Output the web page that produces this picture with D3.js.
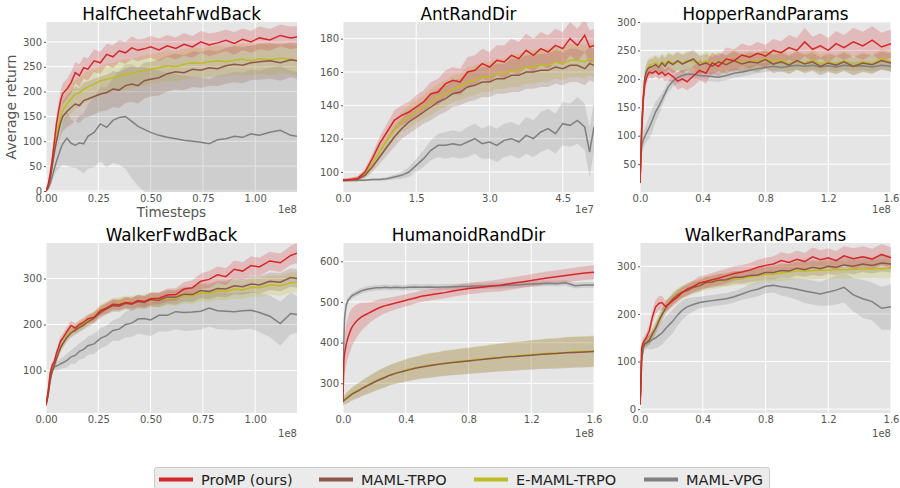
<!DOCTYPE html>
<html>
<head>
<meta charset="utf-8">
<script src="https://d3js.org/d3.v7.min.js"></script>
<style>
  body { margin: 0; background: #fff; }
  svg { font-family: "DejaVu Sans", sans-serif; }
</style>
</head>
<body>
<div id="chart"></div>
<script>
// series
var seriesNames = ["ProMP (ours)", "MAML-TRPO", "E-MAML-TRPO", "MAML-VPG"];
var seriesColors = ["#d62728", "#8c564b", "#bcbd22", "#7f7f7f"];

// timesteps (1e8 / 1e7 units)
var steps12 = [0, .01, .02, .03, .04, .05, .06, .07, .08, .10, .12, .14, .16, .18, .20, .23, .26, .29, .32, .35, .38, .41, .44, .47, .50, .54, .58, .62, .66, .70, .74, .78, .82, .86, .90, .94, .98, 1.02, 1.07, 1.12, 1.17, 1.20];
var steps16 = [0, .005, .01, .02, .03, .04, .05, .06, .08, .10, .12, .14, .16, .18, .21, .24, .27, .30, .34, .38, .42, .46, .50, .55, .60, .65, .70, .75, .80, .85, .90, .95, 1.00, 1.05, 1.10, 1.15, 1.20, 1.25, 1.30, 1.36, 1.42, 1.48, 1.54, 1.60];
var stepsAnt = [0, .15, .3, .45, .6, .75, .9, 1.05, 1.2, 1.35, 1.5, 1.65, 1.8, 1.95, 2.1, 2.25, 2.4, 2.55, 2.7, 2.85, 3.0, 3.15, 3.3, 3.45, 3.6, 3.75, 3.9, 4.05, 4.2, 4.35, 4.5, 4.65, 4.8, 4.95, 5.05, 5.14];

// HalfCheetahFwdBack
var hcProMP = [0, 12, 35, 65, 100, 135, 160, 182, 196, 205, 218, 238, 232, 248, 245, 262, 258, 275, 270, 282, 278, 288, 283, 286, 290, 284, 292, 287, 295, 290, 300, 294, 298, 303, 297, 305, 300, 308, 304, 313, 308, 310];
var hcProMPStd = [2, 3, 6, 10, 14, 18, 20, 20, 21, 20, 22, 21, 23, 22, 22, 23, 22, 21, 23, 22, 22, 23, 22, 21, 22, 23, 22, 22, 23, 22, 22, 23, 22, 22, 23, 22, 22, 23, 22, 22, 23, 22];
var hcTRPO = [0, 8, 25, 50, 78, 100, 120, 138, 150, 160, 168, 175, 172, 182, 185, 190, 195, 198, 205, 203, 212, 215, 212, 222, 225, 228, 236, 240, 238, 245, 243, 248, 246, 252, 255, 253, 258, 260, 262, 258, 264, 262];
var hcTRPOStd = [2, 3, 6, 10, 15, 20, 24, 28, 30, 32, 34, 35, 35, 36, 36, 36, 35, 36, 36, 36, 35, 36, 36, 36, 35, 36, 36, 36, 35, 36, 36, 36, 35, 36, 36, 36, 35, 36, 36, 36, 35, 36];
var hcETRPO = [0, 9, 28, 55, 85, 110, 132, 150, 162, 175, 185, 195, 198, 205, 210, 215, 222, 225, 228, 232, 235, 236, 240, 242, 245, 248, 252, 250, 255, 258, 257, 260, 262, 260, 263, 265, 262, 266, 264, 267, 265, 262];
var hcETRPOStd = [2, 3, 6, 10, 14, 18, 22, 25, 27, 28, 29, 30, 30, 30, 31, 30, 30, 31, 30, 30, 31, 30, 30, 31, 30, 30, 31, 30, 30, 31, 30, 30, 31, 30, 30, 31, 30, 30, 31, 30, 30, 30];
var hcVPG = [0, 5, 15, 30, 45, 60, 72, 85, 95, 106, 96, 92, 97, 95, 110, 118, 135, 128, 142, 148, 150, 140, 130, 124, 118, 112, 108, 105, 102, 100, 98, 95, 103, 105, 110, 108, 115, 112, 118, 122, 112, 110];
var hcVPGStd = [2, 3, 6, 10, 14, 20, 28, 35, 42, 55, 48, 45, 55, 60, 65, 70, 75, 80, 85, 95, 105, 115, 120, 125, 128, 130, 130, 130, 130, 130, 130, 130, 130, 130, 130, 130, 130, 130, 130, 130, 130, 130];

// AntRandDir
var antProMP = [95, 95.5, 96, 100, 108, 117, 124, 131, 134, 136, 139, 142, 147, 148, 153, 155, 154, 160, 161, 165, 163, 167, 166, 170, 168, 173, 170, 174, 172, 176, 174, 180, 176, 182, 175, 176];
var antProMPStd = [1, 1, 1.5, 2, 3, 4, 5, 6, 6, 6, 7, 7, 7, 8, 8, 8, 8, 9, 9, 9, 9, 9, 10, 10, 10, 10, 10, 10, 10, 10, 10, 10, 10, 10, 10, 10];
var antTRPO = [95, 95.2, 95.8, 98, 103, 109, 115, 121, 126, 130, 133, 136, 139, 142, 144, 147, 148, 151, 152, 154, 154, 156, 156, 158, 158, 160, 160, 161, 161, 163, 162, 164, 164, 162, 165, 164];
var antTRPOStd = [1, 1, 1.5, 2, 3, 4, 5, 6, 6, 7, 7, 7, 8, 8, 8, 8, 8, 9, 9, 9, 9, 9, 9, 10, 10, 10, 10, 10, 10, 10, 10, 10, 10, 10, 10, 10];
var antETRPO = [95, 95.3, 96, 99, 105, 112, 119, 125, 130, 133, 136, 139, 142, 145, 147, 150, 151, 154, 155, 157, 157, 159, 159, 161, 161, 163, 163, 164, 164, 166, 165, 167, 167, 166, 168, 167];
var antETRPOStd = [1, 1, 1.5, 2, 3, 4, 5, 6, 6, 7, 7, 7, 8, 8, 8, 8, 8, 9, 9, 9, 9, 9, 9, 10, 10, 10, 10, 10, 10, 10, 10, 10, 10, 10, 10, 10];
var antVPG = [95, 95, 95, 95, 95.5, 95.5, 96, 97, 98, 100, 104, 108, 113, 116, 116, 117, 116, 118, 120, 117, 118, 116, 119, 120, 118, 122, 120, 124, 126, 123, 129, 128, 131, 127, 112, 127];
var antVPGStd = [.5, .5, .5, .5, .7, .8, 1, 1.5, 2, 3, 4, 5, 6, 7, 8, 8, 8, 9, 9, 9, 10, 10, 10, 10, 10, 11, 11, 12, 12, 12, 13, 13, 14, 14, 15, 15];

// HopperRandParams
var hopProMP = [17, 55, 100, 160, 190, 200, 208, 212, 210, 214, 208, 212, 206, 210, 204, 196, 200, 195, 205, 215, 210, 228, 222, 235, 232, 242, 238, 245, 240, 250, 246, 255, 250, 265, 252, 258, 250, 262, 255, 265, 258, 268, 256, 262];
var hopProMPStd = [3, 10, 15, 18, 15, 12, 10, 10, 10, 10, 10, 10, 10, 12, 12, 15, 15, 15, 18, 18, 18, 18, 18, 20, 20, 20, 20, 20, 20, 20, 20, 22, 22, 25, 22, 22, 22, 22, 22, 25, 25, 25, 25, 25];
var hopTRPO = [17, 65, 110, 165, 200, 212, 218, 220, 222, 225, 220, 228, 222, 230, 225, 232, 226, 230, 235, 224, 228, 222, 230, 225, 232, 226, 230, 228, 234, 226, 230, 224, 232, 226, 230, 222, 228, 224, 230, 222, 228, 225, 232, 228];
var hopTRPOStd = [3, 10, 15, 15, 15, 14, 14, 14, 14, 15, 15, 15, 15, 15, 16, 16, 16, 16, 16, 16, 16, 16, 16, 16, 16, 16, 16, 16, 16, 16, 16, 16, 16, 16, 16, 16, 16, 16, 16, 16, 16, 16, 16, 16];
var hopETRPO = [17, 62, 105, 160, 198, 212, 220, 224, 226, 228, 224, 230, 226, 232, 228, 230, 228, 232, 230, 226, 232, 228, 230, 226, 234, 228, 232, 230, 236, 230, 234, 226, 232, 228, 234, 226, 230, 226, 232, 224, 230, 226, 236, 230];
var hopETRPOStd = [3, 10, 15, 15, 15, 14, 14, 14, 14, 15, 15, 15, 15, 15, 16, 16, 16, 17, 17, 17, 17, 17, 17, 17, 17, 17, 17, 17, 17, 17, 17, 17, 17, 17, 17, 17, 17, 17, 17, 17, 17, 17, 17, 17];
var hopVPG = [17, 55, 80, 92, 98, 104, 110, 115, 128, 142, 152, 163, 175, 186, 196, 202, 206, 208, 208, 206, 205, 204, 203, 206, 210, 212, 215, 218, 220, 222, 220, 222, 224, 222, 224, 221, 223, 221, 224, 222, 223, 221, 224, 222];
var hopVPGStd = [3, 10, 15, 15, 15, 15, 18, 20, 20, 18, 15, 12, 10, 10, 10, 10, 10, 10, 8, 8, 8, 8, 8, 8, 8, 8, 8, 8, 8, 8, 8, 8, 8, 8, 8, 8, 8, 8, 8, 8, 8, 8, 8, 8];

// WalkerFwdBack
var wfbProMP = [25, 55, 95, 112, 120, 138, 150, 165, 170, 185, 198, 192, 200, 205, 212, 216, 230, 236, 244, 243, 248, 246, 252, 250, 256, 257, 264, 265, 277, 280, 294, 298, 308, 304, 320, 316, 328, 325, 338, 334, 350, 355];
var wfbProMPStd = [4, 6, 8, 8, 8, 9, 10, 10, 10, 10, 10, 10, 10, 10, 10, 11, 11, 12, 12, 12, 12, 12, 12, 12, 13, 13, 14, 14, 15, 16, 17, 18, 18, 18, 19, 19, 20, 20, 20, 20, 21, 22];
var wfbTRPO = [25, 45, 78, 100, 112, 125, 138, 150, 158, 172, 182, 188, 194, 199, 206, 214, 226, 234, 241, 240, 246, 244, 250, 248, 254, 253, 260, 259, 266, 265, 274, 272, 278, 277, 284, 282, 288, 286, 294, 292, 302, 300];
var wfbTRPOStd = [4, 5, 7, 8, 8, 8, 9, 9, 9, 10, 10, 10, 10, 10, 11, 11, 12, 12, 13, 13, 13, 14, 14, 14, 15, 15, 15, 16, 16, 16, 17, 17, 17, 18, 18, 18, 19, 19, 19, 20, 20, 20];
var wfbETRPO = [25, 48, 82, 102, 114, 128, 140, 152, 160, 175, 185, 190, 196, 201, 209, 217, 231, 237, 243, 245, 249, 247, 251, 250, 254, 253, 258, 257, 263, 262, 269, 267, 273, 272, 277, 275, 281, 280, 286, 284, 291, 292];
var wfbETRPOStd = [4, 5, 7, 8, 8, 9, 9, 10, 10, 10, 11, 11, 11, 12, 12, 12, 13, 13, 14, 14, 14, 15, 15, 15, 16, 16, 16, 17, 17, 18, 18, 18, 19, 19, 20, 20, 20, 21, 21, 22, 22, 22];
var wfbVPG = [25, 50, 85, 100, 108, 110, 112, 115, 117, 122, 130, 133, 142, 146, 154, 158, 170, 176, 187, 190, 200, 203, 212, 213, 210, 220, 220, 228, 226, 227, 229, 236, 230, 229, 228, 230, 231, 226, 218, 202, 224, 222];
var wfbVPGStd = [5, 5, 5, 6, 8, 10, 10, 12, 12, 15, 15, 18, 18, 20, 20, 22, 22, 22, 22, 25, 28, 30, 32, 35, 35, 35, 35, 38, 40, 40, 40, 40, 40, 40, 40, 40, 40, 42, 45, 48, 45, 40];

// HumanoidRandDir
var humProMP = [255, 355, 372, 395, 410, 422, 432, 440, 450, 458, 464, 468, 472, 476, 482, 487, 491, 494, 498, 502, 506, 510, 514, 517, 520, 523, 527, 530, 533, 535, 537, 539, 541, 544, 547, 550, 553, 556, 559, 562, 565, 568, 571, 573];
var humProMPStd = [5, 40, 48, 50, 50, 50, 48, 46, 42, 38, 34, 30, 27, 24, 22, 20, 18, 17, 16, 15, 15, 14, 14, 14, 14, 14, 14, 14, 14, 14, 14, 14, 15, 15, 15, 15, 15, 16, 16, 16, 16, 17, 17, 17];
var humTRPO = [255, 257, 259, 262, 265, 268, 271, 274, 278, 282, 287, 291, 295, 299, 305, 310, 315, 320, 325, 329, 333, 337, 340, 343, 346, 349, 351, 353, 355, 357, 359, 361, 363, 365, 366, 368, 369, 371, 372, 373, 375, 376, 377, 378];
var humTRPOStd = [10, 10, 12, 13, 14, 15, 15, 16, 17, 18, 19, 20, 21, 22, 23, 24, 25, 25, 26, 27, 28, 28, 29, 30, 30, 31, 31, 32, 32, 33, 33, 34, 34, 35, 35, 35, 36, 36, 37, 37, 38, 38, 38, 38];
var humETRPO = [256, 258, 261, 264, 267, 270, 273, 276, 280, 284, 288, 293, 296, 301, 306, 312, 316, 321, 326, 330, 335, 338, 341, 345, 347, 350, 352, 355, 356, 359, 360, 363, 364, 366, 368, 369, 371, 372, 374, 375, 376, 378, 378, 380];
var humETRPOStd = [10, 10, 12, 13, 14, 15, 15, 16, 17, 18, 19, 20, 21, 22, 23, 24, 25, 25, 26, 27, 28, 28, 29, 30, 30, 31, 31, 32, 32, 33, 33, 34, 34, 35, 35, 35, 36, 36, 37, 37, 38, 38, 38, 38];
var humVPG = [255, 400, 460, 492, 502, 508, 512, 516, 520, 524, 528, 530, 532, 533, 535, 535, 536, 535, 536, 535, 536, 537, 536, 537, 536, 537, 537, 538, 538, 539, 539, 540, 540, 541, 542, 543, 544, 545, 546, 545, 547, 540, 542, 542];
var humVPGStd = [3, 20, 15, 10, 8, 7, 7, 7, 7, 7, 7, 7, 7, 7, 7, 7, 7, 7, 7, 7, 7, 7, 7, 7, 7, 7, 7, 7, 7, 7, 7, 7, 7, 7, 7, 7, 7, 7, 7, 7, 7, 7, 7, 7];

// WalkerRandParams
var wrpProMP = [10, 60, 128, 140, 145, 150, 158, 165, 195, 215, 222, 224, 216, 220, 228, 236, 245, 252, 258, 265, 268, 272, 275, 280, 285, 288, 292, 298, 302, 305, 312, 308, 315, 310, 320, 314, 318, 312, 322, 316, 320, 315, 325, 318];
var wrpProMPStd = [3, 8, 10, 10, 10, 10, 12, 14, 15, 15, 15, 15, 12, 12, 12, 12, 12, 12, 12, 14, 14, 14, 15, 15, 15, 15, 15, 16, 16, 16, 18, 18, 18, 18, 20, 20, 20, 20, 20, 22, 22, 22, 22, 22];
var wrpTRPO = [10, 40, 100, 132, 138, 140, 142, 145, 158, 170, 185, 198, 210, 220, 232, 240, 246, 249, 256, 259, 266, 267, 271, 272, 277, 277, 281, 282, 287, 287, 291, 290, 296, 293, 298, 295, 300, 298, 303, 300, 305, 302, 307, 305];
var wrpTRPOStd = [3, 8, 10, 10, 10, 10, 10, 10, 12, 12, 12, 12, 12, 12, 12, 12, 12, 12, 12, 12, 12, 12, 13, 13, 13, 13, 14, 14, 14, 14, 15, 15, 15, 15, 16, 16, 16, 16, 16, 17, 17, 17, 18, 18];
var wrpETRPO = [10, 42, 102, 133, 139, 141, 143, 147, 160, 172, 188, 200, 212, 222, 234, 242, 247, 251, 256, 260, 264, 267, 269, 272, 274, 276, 278, 280, 283, 284, 286, 288, 290, 290, 291, 292, 292, 293, 293, 294, 294, 295, 295, 296];
var wrpETRPOStd = [3, 8, 10, 10, 10, 10, 10, 10, 12, 12, 12, 12, 12, 12, 13, 13, 13, 14, 14, 14, 14, 15, 15, 15, 15, 15, 16, 16, 16, 16, 17, 17, 17, 17, 18, 18, 18, 18, 18, 19, 19, 19, 20, 20];
var wrpVPG = [10, 40, 100, 128, 135, 138, 140, 142, 146, 150, 155, 160, 168, 175, 185, 198, 208, 215, 220, 224, 226, 228, 230, 232, 236, 242, 248, 252, 258, 260, 257, 255, 252, 248, 245, 242, 246, 250, 256, 240, 232, 226, 212, 215];
var wrpVPGStd = [3, 8, 10, 10, 10, 12, 14, 16, 20, 22, 24, 25, 25, 25, 25, 22, 20, 18, 15, 12, 12, 12, 12, 12, 12, 12, 15, 15, 15, 15, 18, 20, 22, 25, 25, 25, 28, 30, 32, 35, 40, 40, 45, 48];

// tick values
var xTicks12 = [0, 0.25, 0.5, 0.75, 1.0];
var xTicks16 = [0, 0.4, 0.8, 1.2, 1.6];
var xTicksAnt = [0, 1.5, 3.0, 4.5];

var panels = [
    { title: "HalfCheetahFwdBack", steps: steps12, means: [hcProMP, hcTRPO, hcETRPO, hcVPG], stds: [hcProMPStd, hcTRPOStd, hcETRPOStd, hcVPGStd],
      xDomain: [0, 1.2], yDomain: [-2, 340], xTicks: xTicks12, yTicks: [0, 50, 100, 150, 200, 250, 300], xFmt: ".2f", offset: "1e8" },
    { title: "AntRandDir", steps: stepsAnt, means: [antProMP, antTRPO, antETRPO, antVPG], stds: [antProMPStd, antTRPOStd, antETRPOStd, antVPGStd],
      xDomain: [0, 5.14], yDomain: [88, 190], xTicks: xTicksAnt, yTicks: [100, 120, 140, 160, 180], xFmt: ".1f", offset: "1e7" },
    { title: "HopperRandParams", steps: steps16, means: [hopProMP, hopTRPO, hopETRPO, hopVPG], stds: [hopProMPStd, hopTRPOStd, hopETRPOStd, hopVPGStd],
      xDomain: [0, 1.6], yDomain: [1, 300], xTicks: xTicks16, yTicks: [50, 100, 150, 200, 250, 300], xFmt: ".1f", offset: "1e8" },
    { title: "WalkerFwdBack", steps: steps12, means: [wfbProMP, wfbTRPO, wfbETRPO, wfbVPG], stds: [wfbProMPStd, wfbTRPOStd, wfbETRPOStd, wfbVPGStd],
      xDomain: [0, 1.2], yDomain: [8, 377], xTicks: xTicks12, yTicks: [100, 200, 300], xFmt: ".2f", offset: "1e8" },
    { title: "HumanoidRandDir", steps: steps16, means: [humProMP, humTRPO, humETRPO, humVPG], stds: [humProMPStd, humTRPOStd, humETRPOStd, humVPGStd],
      xDomain: [0, 1.6], yDomain: [227, 645], xTicks: xTicks16, yTicks: [300, 400, 500, 600], xFmt: ".1f", offset: "1e8" },
    { title: "WalkerRandParams", steps: steps16, means: [wrpProMP, wrpTRPO, wrpETRPO, wrpVPG], stds: [wrpProMPStd, wrpTRPOStd, wrpETRPOStd, wrpVPGStd],
      xDomain: [0, 1.6], yDomain: [-8, 349], xTicks: xTicks16, yTicks: [0, 100, 200, 300], xFmt: ".1f", offset: "1e8" }
];

var svgWidth = 900;
var svgHeight = 488;
var colLeft = [46, 343, 640];
var rowTop = [22, 243];
var panelW = 251;
var panelH = 170;
var drawOrder = [3, 2, 1, 0];

var svg = d3.select("#chart")
    .append("svg")
    .attr("width", svgWidth)
    .attr("height", svgHeight);

panels.forEach(function(p, i) {
    var left = colLeft[i % 3];
    var top = rowTop[Math.floor(i / 3)];

    var x = d3.scaleLinear().domain(p.xDomain).range([0, panelW]);
    var y = d3.scaleLinear().domain(p.yDomain).range([panelH, 0]);

    var g = svg.append("g").attr("transform", `translate(${left}, ${top})`);

    g.append("rect")
        .attr("width", panelW)
        .attr("height", panelH)
        .attr("fill", "#e5e5e5");

    g.append("clipPath")
        .attr("id", "clip" + i)
        .append("rect")
        .attr("width", panelW)
        .attr("height", panelH);

    // grid
    g.append("g").selectAll("line")
        .data(p.yTicks)
        .enter()
        .append("line")
        .attr("x1", 0)
        .attr("x2", panelW)
        .attr("y1", d => y(d))
        .attr("y2", d => y(d))
        .attr("stroke", "#fff")
        .attr("stroke-width", 1);

    g.append("g").selectAll("line")
        .data(p.xTicks)
        .enter()
        .append("line")
        .attr("x1", d => x(d))
        .attr("x2", d => x(d))
        .attr("y1", 0)
        .attr("y2", panelH)
        .attr("stroke", "#fff")
        .attr("stroke-width", 1);

    var plot = g.append("g").attr("clip-path", `url(#clip${i})`);

    drawOrder.forEach(function(s) {
        var rows = p.steps.map(function(t, k) {
            return { t: t, m: p.means[s][k], sd: p.stds[s][k] };
        });
        var area = d3.area()
            .x(d => x(d.t))
            .y0(d => y(d.m - d.sd))
            .y1(d => y(d.m + d.sd));
        plot.append("path")
            .datum(rows)
            .attr("d", area)
            .attr("fill", seriesColors[s])
            .attr("opacity", 0.22);
    });

    drawOrder.forEach(function(s) {
        var rows = p.steps.map(function(t, k) {
            return { t: t, m: p.means[s][k] };
        });
        var line = d3.line()
            .x(d => x(d.t))
            .y(d => y(d.m));
        plot.append("path")
            .datum(rows)
            .attr("d", line)
            .attr("fill", "none")
            .attr("stroke", seriesColors[s])
            .attr("stroke-width", 1.5);
    });

    var xAxis = d3.axisBottom(x).tickValues(p.xTicks).tickFormat(d3.format(p.xFmt)).tickSize(0).tickPadding(3);
    var yAxis = d3.axisLeft(y).tickValues(p.yTicks).tickFormat(d3.format("d")).tickSize(2).tickPadding(2);

    var xg = g.append("g")
        .attr("transform", `translate(0, ${panelH})`)
        .call(xAxis);
    var yg = g.append("g").call(yAxis);

    [xg, yg].forEach(function(a) {
        a.select(".domain").remove();
        a.selectAll("text")
            .attr("fill", "#555")
            .attr("font-size", "10px")
            .attr("font-family", "DejaVu Sans");
        a.selectAll(".tick line").attr("stroke", "#555");
    });

    g.append("text")
        .attr("x", panelW / 2)
        .attr("y", -2)
        .attr("text-anchor", "middle")
        .attr("font-size", "16.8px")
        .attr("fill", "#000")
        .text(p.title);

    g.append("text")
        .attr("x", panelW)
        .attr("y", i < 3 ? panelH + 21 : panelH + 24)
        .attr("text-anchor", "end")
        .attr("font-size", "10px")
        .attr("fill", "#555")
        .text(p.offset);

    if (i === 0) {
        g.append("text")
            .attr("x", panelW / 2)
            .attr("y", panelH + 25)
            .attr("text-anchor", "middle")
            .attr("font-size", "13.5px")
            .attr("fill", "#555")
            .text("Timesteps");

        g.append("text")
            .attr("transform", "rotate(-90)")
            .attr("x", -panelH / 2)
            .attr("y", -30)
            .attr("text-anchor", "middle")
            .attr("font-size", "14px")
            .attr("fill", "#555")
            .text("Average return");
    }
});

// legend
var legendX = [159, 319, 474, 644];
var legend = svg.append("g");

legend.append("rect")
    .attr("x", 154.5)
    .attr("y", 467.5)
    .attr("width", 615)
    .attr("height", 30)
    .attr("rx", 2)
    .attr("fill", "#ebebeb")
    .attr("stroke", "#cccccc");

seriesNames.forEach(function(name, s) {
    legend.append("line")
        .attr("x1", legendX[s])
        .attr("x2", legendX[s] + 34)
        .attr("y1", 479.5)
        .attr("y2", 479.5)
        .attr("stroke", seriesColors[s])
        .attr("stroke-width", 4);
    legend.append("text")
        .attr("x", legendX[s] + 42)
        .attr("y", 484.5)
        .attr("font-size", "14.5px")
        .attr("fill", "#222")
        .text(name);
});
</script>
</body>
</html>
